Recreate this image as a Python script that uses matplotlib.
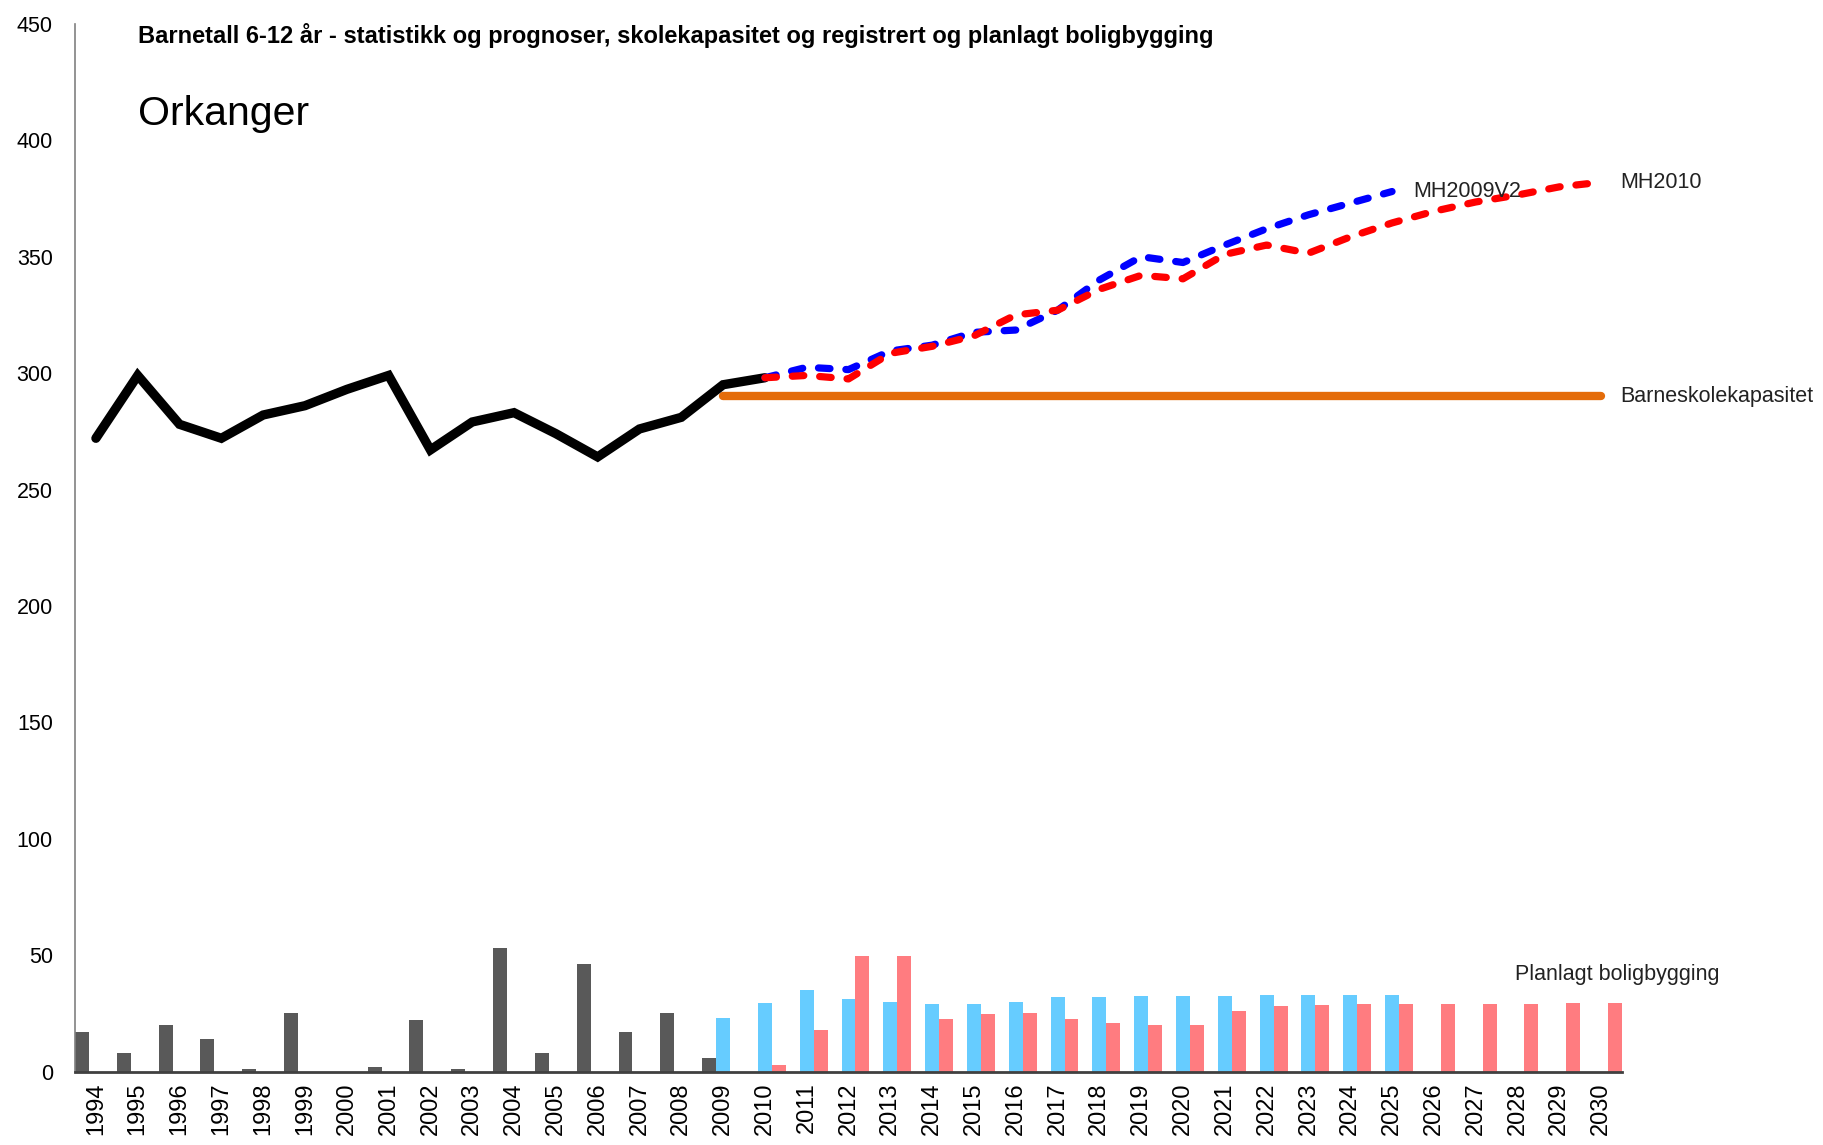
import numpy as np
import matplotlib
matplotlib.use("Agg")
import matplotlib.pyplot as plt

plt.rcParams["font.family"] = ["Liberation Sans", "DejaVu Sans"]

# ----- data -----
years = list(range(1994, 2031))

# barnetall 6-12 aar, statistikk
stat_years = list(range(1994, 2011))
stat_values = [272, 299, 278, 272, 282, 286, 293, 299, 267, 279, 283, 274, 264, 276, 281, 295, 298]

# prognoser
mh2009_years = list(range(2010, 2026))
mh2009_values = [298, 302.5, 301.5, 309.5, 312, 317.5, 318.5, 327, 340, 350, 347.5, 355, 362, 368, 373, 378]
mh2010_years = list(range(2010, 2031))
mh2010_values = [298, 299, 297.5, 308.5, 311.5, 316, 325, 327, 336, 342, 340.5, 351, 355, 351.5,
                 358.5, 364.5, 369.5, 373.5, 376.5, 380, 382]

# skolekapasitet
cap_years = [2009, 2030]
cap_values = [290, 290]

# boligbygging (registrert og planlagt)
reg_years = list(range(1994, 2010))
reg_values = [17, 8, 20, 14, 1.2, 25, 0, 2, 22, 1.2, 53, 8, 46, 17, 25, 6]
plan09_years = list(range(2009, 2026))
plan09_values = [23, 29.5, 35, 31, 30, 29, 29, 30, 32, 32, 32.5, 32.5, 32.5, 33, 33, 33, 33]
plan10_years = list(range(2010, 2031))
plan10_values = [3, 18, 49.5, 49.5, 22.5, 24.5, 25, 22.5, 21, 20, 20, 26, 28, 28.5, 29, 29,
                 29, 29, 29, 29.5, 29.5]


def xpos(yrs, offset=0.5):
    return np.array([y - years[0] for y in yrs], dtype=float) + offset


fig = plt.figure(figsize=(18.24, 11.45), dpi=100)
ax = fig.add_axes([75 / 1824, 73.5 / 1145, (1622 - 75) / 1824, (1071.5 - 23.9) / 1145])

w = 1 / 3
ax.bar(xpos(reg_years, w / 2), reg_values, width=w, color="#595959", zorder=2)
ax.bar(xpos(plan09_years, 1.5 * w), plan09_values, width=w, color="#66CCFF", zorder=2)
ax.bar(xpos(plan10_years, 2.5 * w), plan10_values, width=w, color="#FF7C80", zorder=2)

ax.plot(xpos(cap_years), cap_values, color="#E46C0A", lw=6, solid_capstyle="round", zorder=3)
ax.plot(xpos(stat_years), stat_values, color="black", lw=6.7, solid_capstyle="round",
        solid_joinstyle="miter", zorder=4)
ax.plot(xpos(mh2009_years), mh2009_values, color="#0000FF", lw=5.2, linestyle=(0, (1.6, 2.2)),
        dash_capstyle="round", zorder=5)
ax.plot(xpos(mh2010_years), mh2010_values, color="#FF0000", lw=5.2, linestyle=(0, (1.6, 2.2)),
        dash_capstyle="round", zorder=6)

ax.set_xlim(0, len(years))
ax.set_ylim(0, 450)
ax.set_yticks(np.arange(0, 451, 50))
ax.set_xticks(xpos(years))
ax.set_xticklabels([str(y) for y in years], rotation=90, fontsize=17)
ax.tick_params(axis="y", length=0, pad=16, labelsize=15.5)
ax.tick_params(axis="x", length=0, pad=8)

for s in ["top", "right"]:
    ax.spines[s].set_visible(False)
ax.spines["left"].set_color("#808080")
ax.spines["left"].set_linewidth(1.2)
ax.spines["bottom"].set_color("#404040")
ax.spines["bottom"].set_linewidth(2)

txt = "#222222"
ax.text(32.0, 378, "MH2009V2", fontsize=15.5, color=txt, va="center", ha="left", zorder=7)
ax.text(36.95, 382, "MH2010", fontsize=15.5, color=txt, va="center", ha="left")
ax.text(36.95, 290, "Barneskolekapasitet", fontsize=15.5, color=txt, va="center", ha="left")
ax.text(34.45, 41.5, "Planlagt boligbygging", fontsize=15.5, color=txt, va="center", ha="left")

fig.text(138 / 1824, 1 - 35 / 1145,
         "Barnetall 6-12 år - statistikk og prognoser, skolekapasitet og registrert og planlagt boligbygging",
         fontsize=17, fontweight="bold", color="black", va="center", ha="left")
fig.text(138 / 1824, 1 - 114 / 1145, "Orkanger", fontsize=29.5, color="black", va="center", ha="left")

fig.savefig("out.png", dpi=100)
